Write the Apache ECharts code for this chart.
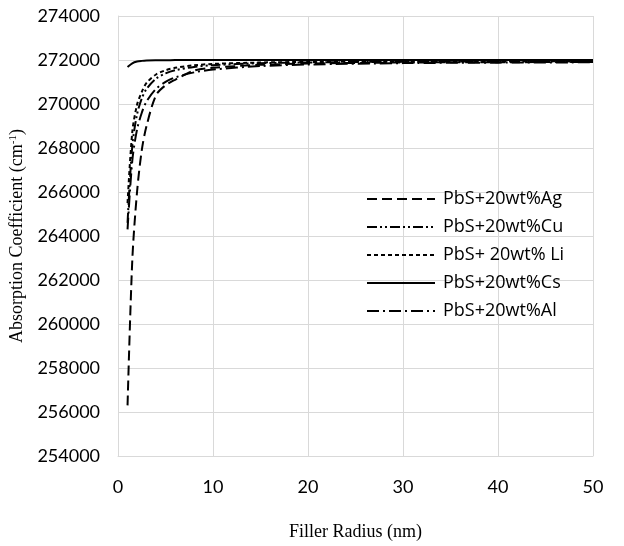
<!DOCTYPE html>
<html>
<head>
<meta charset="utf-8">
<script src="https://cdn.jsdelivr.net/npm/echarts@6/dist/echarts.min.js"></script>
<style>html,body{margin:0;padding:0;background:#fff}#c{width:624px;height:546px}</style>
</head>
<body>
<div id="c"></div>
<script>
const seriesNames = ['PbS+20wt%Ag', 'PbS+20wt%Cu', 'PbS+ 20wt% Li', 'PbS+20wt%Cs', 'PbS+20wt%Al'];
const radius = [1, 1.5, 2, 2.5, 3, 4, 5, 6, 8, 10, 15, 20, 30, 40, 50];
const agValues = [256300, 262900, 266000, 267900, 269000, 270400, 270850, 271100, 271520, 271650, 271780, 271840, 271885, 271900, 271910];
const cuValues = [264600, 268100, 269525, 270250, 270683, 271150, 271389, 271532, 271687, 271765, 271853, 271889, 271918, 271930, 271937];
const liValues = [265500, 268725, 269965, 270550, 270960, 271342, 271534, 271643, 271760, 271821, 271886, 271910, 271930, 271940, 271945];
const csValues = [271680, 271850, 271930, 271960, 271975, 271985, 271990, 271995, 271998, 272000, 272000, 272000, 272000, 272000, 272000];
const alValues = [264300, 267423, 268840, 269600, 270115, 270688, 271006, 271207, 271437, 271567, 271724, 271794, 271858, 271880, 271895];
const yTicks = { min: 254000, max: 274000, interval: 2000 };
const xTicks = { min: 0, max: 50, interval: 10 };

const allValues = [agValues, cuValues, liValues, csValues, alValues];
const dashes = [[10, 5], [10, 3, 2, 3, 2, 3], [4, 3], 'solid', [12, 4, 2, 4]];

const series = seriesNames.map((n, i) => ({
  name: n,
  type: 'line',
  smooth: 0.3,
  symbol: 'none',
  data: radius.map((r, j) => [r, allValues[i][j]]),
  lineStyle: { color: '#000', width: 2, type: dashes[i] },
  itemStyle: { color: '#000' }
}));

const chart = echarts.init(document.getElementById('c'), null, { renderer: 'canvas' });
chart.setOption({
  animation: false,
  backgroundColor: '#fff',
  grid: { left: 118, right: 31, top: 16, bottom: 81, containLabel: false },
  legend: {
    orient: 'vertical',
    left: 361,
    top: 185,
    itemWidth: 68,
    itemHeight: 10,
    itemGap: 10,
    itemStyle: { opacity: 0 },
    textStyle: { fontFamily: 'Open Sans', fontSize: 18, color: '#000', padding: [0, 0, 0, 3] },
    data: seriesNames
  },
  xAxis: {
    type: 'value',
    min: xTicks.min, max: xTicks.max, interval: xTicks.interval,
    name: 'Filler Radius (nm)',
    nameLocation: 'middle',
    nameGap: 67,
    nameTextStyle: { fontFamily: 'Liberation Serif', fontSize: 18, color: '#000' },
    axisLine: { show: true, lineStyle: { color: '#d9d9d9', width: 1 } },
    axisTick: { show: false },
    axisLabel: { fontFamily: 'Lato', fontSize: 18, color: '#000', margin: 22 },
    splitLine: { show: true, lineStyle: { color: '#d9d9d9', width: 1 } }
  },
  yAxis: {
    type: 'value',
    min: yTicks.min, max: yTicks.max, interval: yTicks.interval,
    name: '{n|Absorption Coefficient (cm}{s|-1}{n|)}',
    nameLocation: 'middle',
    nameGap: 91,
    nameRotate: 90,
    nameTextStyle: {
      rich: {
        n: { fontFamily: 'Liberation Serif', fontSize: 18, color: '#000' },
        s: { fontFamily: 'Liberation Serif', fontSize: 11, color: '#000', verticalAlign: 'top', padding: [0, 0, 8, 0] }
      }
    },
    axisLine: { show: true, lineStyle: { color: '#d9d9d9', width: 1 } },
    axisTick: { show: false },
    axisLabel: { fontFamily: 'Lato', fontSize: 18, color: '#000', margin: 18, formatter: v => String(v) },
    splitLine: { show: true, lineStyle: { color: '#d9d9d9', width: 1 } }
  },
  series: series
});
</script>
</body>
</html>
